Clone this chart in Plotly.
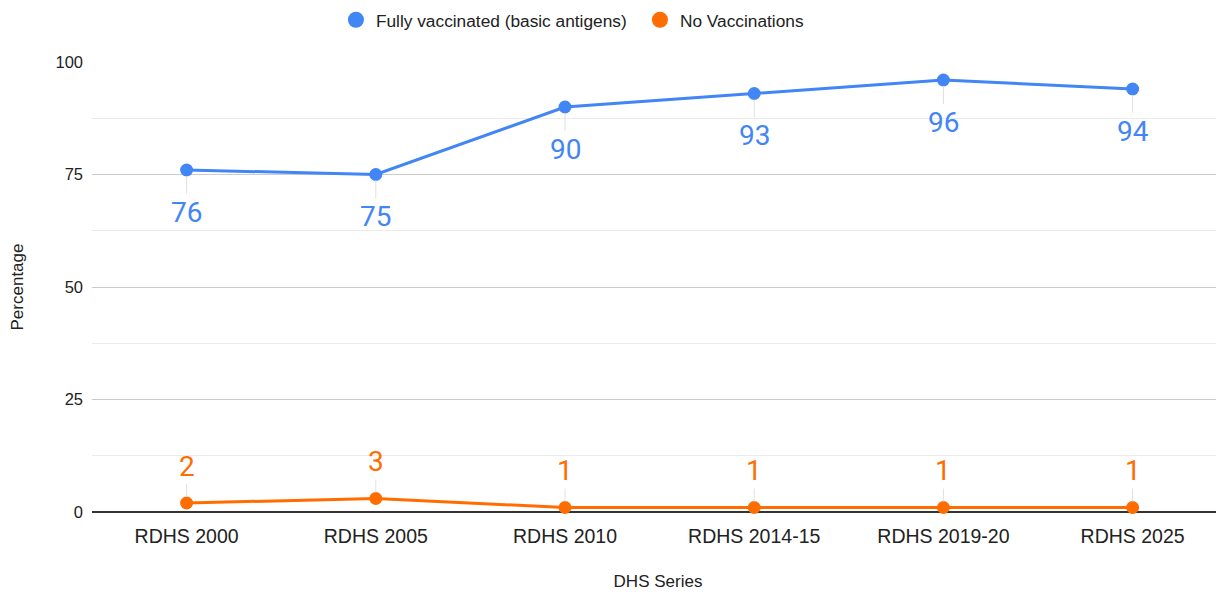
import plotly.graph_objects as go

categories = ["RDHS 2000", "RDHS 2005", "RDHS 2010", "RDHS 2014-15", "RDHS 2019-20", "RDHS 2025"]
fully_vaccinated = [76, 75, 90, 93, 96, 94]
no_vaccinations = [2, 3, 1, 1, 1, 1]
y_ticks = [0, 25, 50, 75, 100]

BLUE = "#4285F4"
ORANGE = "#FF6D01"

fig = go.Figure()
fig.add_trace(go.Scatter(x=categories, y=fully_vaccinated, mode="lines+markers",
                         line=dict(color=BLUE, width=3), marker=dict(size=13, color=BLUE),
                         showlegend=False, cliponaxis=False))
fig.add_trace(go.Scatter(x=categories, y=no_vaccinations, mode="lines+markers",
                         line=dict(color=ORANGE, width=3), marker=dict(size=13, color=ORANGE),
                         showlegend=False, cliponaxis=False))
# legend-only entries
fig.add_trace(go.Scatter(x=[None], y=[None], mode="markers", name="Fully vaccinated (basic antigens)",
                         marker=dict(size=16, color=BLUE)))
fig.add_trace(go.Scatter(x=[None], y=[None], mode="markers", name="No Vaccinations",
                         marker=dict(size=16, color=ORANGE)))

for c, v in zip(categories, fully_vaccinated):
    fig.add_annotation(x=c, y=v, text=str(v), showarrow=True, arrowhead=0, arrowwidth=1,
                       arrowcolor="#e0e0e0", ax=0, ay=42, standoff=6,
                       font=dict(family="Roboto", size=28, color=BLUE))
for c, v in zip(categories, no_vaccinations):
    fig.add_annotation(x=c, y=v, text=str(v), showarrow=True, arrowhead=0, arrowwidth=1,
                       arrowcolor="#e0e0e0", ax=0, ay=-37, standoff=6,
                       font=dict(family="Roboto", size=28, color=ORANGE))

fig.update_layout(
    width=1216, height=584,
    margin=dict(l=84, r=0, t=54, b=80, autoexpand=False),
    paper_bgcolor="white", plot_bgcolor="white",
    font=dict(family="Arial, Liberation Sans", size=16, color="#222222"),
    legend=dict(orientation="h", x=0.2155, xanchor="left", y=1.0933, yanchor="middle",
                font=dict(size=17.3, color="#222222"), itemwidth=30, entrywidth=259),
    xaxis=dict(title=dict(text="DHS Series", font=dict(size=17), standoff=29),
               automargin=False,
               showgrid=False, showline=False, ticks="", range=[-0.5, 5.483],
               ticklabelstandoff=10, tickfont=dict(size=19.5)),
    yaxis=dict(title=dict(text="Percentage", font=dict(size=17), standoff=28),
               automargin=False,
               range=[0, 100], tickvals=y_ticks, showgrid=True, gridcolor="#cccccc", gridwidth=1,
               zeroline=True, zerolinecolor="#333333", zerolinewidth=1.5,
               minor=dict(dtick=12.5, tick0=0, showgrid=True, gridcolor="#ebebeb", gridwidth=1),
               ticks="", ticklabelstandoff=8, tickfont=dict(size=16.5)),
)

fig.write_html("out.html")
